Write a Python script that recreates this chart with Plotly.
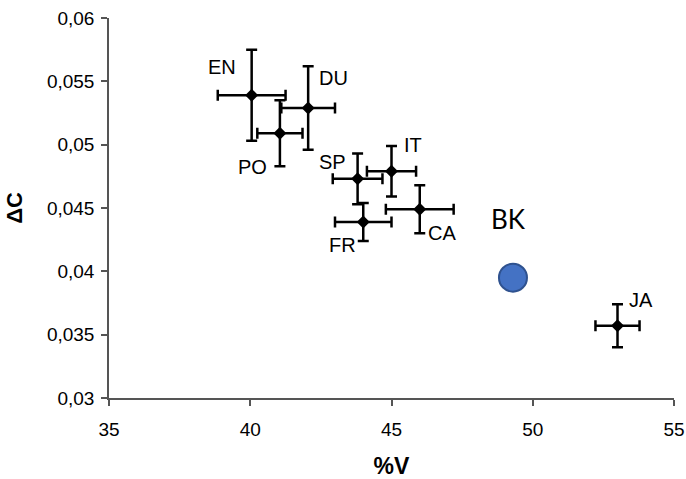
import plotly.graph_objects as go

# ---- data ----
labels = ["EN", "DU", "PO", "SP", "IT", "CA", "FR", "JA"]
pct_v = [40.05, 42.05, 41.05, 43.8, 45.0, 46.0, 44.0, 53.0]
delta_c = [0.0539, 0.0529, 0.0509, 0.0473, 0.0479, 0.0449, 0.0439, 0.0357]
pct_v_err = [1.2, 0.95, 0.8, 0.88, 0.87, 1.2, 1.0, 0.78]
delta_c_err = [0.0036, 0.0033, 0.0026, 0.0020, 0.0020, 0.0019, 0.0015, 0.0017]

bk_label = "BK"
bk_v = [49.3]
bk_c = [0.0395]

x_ticks = [35, 40, 45, 50, 55]
y_ticks = [0.03, 0.035, 0.04, 0.045, 0.05, 0.055, 0.06]

# label offsets (px) relative to each point
label_shift = {
    "EN": (-30, 28), "DU": (25, 30), "PO": (-27, -34), "SP": (-25, 17),
    "IT": (21, 26), "CA": (22, -24), "FR": (-21, -23), "JA": (23, 26),
}

FONT = "Liberation Sans, Arial, sans-serif"

fig = go.Figure()
fig.add_trace(go.Scatter(
    x=pct_v, y=delta_c, mode="markers",
    marker=dict(symbol="diamond", size=10, color="black"),
    error_x=dict(type="data", array=pct_v_err, color="black", thickness=2.5, width=5.5),
    error_y=dict(type="data", array=delta_c_err, color="black", thickness=2.5, width=5.5),
    showlegend=False, hoverinfo="skip",
))
fig.add_trace(go.Scatter(
    x=bk_v, y=bk_c, mode="markers",
    marker=dict(symbol="circle", size=28, color="#4472C4",
                line=dict(color="#2F528F", width=2)),
    showlegend=False,
))

for lab, xv, yv in zip(labels, pct_v, delta_c):
    dx, dy = label_shift[lab]
    fig.add_annotation(x=xv, y=yv, text=lab, showarrow=False,
                       xshift=dx, yshift=dy,
                       font=dict(family=FONT, size=20, color="black"))
fig.add_annotation(x=bk_v[0], y=bk_c[0], text=bk_label, showarrow=False,
                   xshift=-4, yshift=59,
                   font=dict(family="Lato, Open Sans, sans-serif", size=26, color="black"))

axis_common = dict(
    showline=True, linecolor="#555", linewidth=1.5,
    ticks="outside", ticklen=6, tickcolor="#555", tickwidth=1.5,
    showgrid=False, zeroline=False, mirror=False, automargin=False,
    ticklabeloverflow="allow",
    tickfont=dict(family=FONT, size=19, color="black"),
)

fig.update_xaxes(
    range=[35, 55], tickvals=x_ticks, ticklabelstandoff=7,
    title=dict(text="<b>%V</b>", font=dict(family=FONT, size=23, color="black"), standoff=27),
    **axis_common,
)
fig.update_yaxes(
    range=[0.03, 0.06], tickvals=y_ticks, ticklabelstandoff=3,
    title=dict(text="<b>ΔC</b>", font=dict(family=FONT, size=22, color="black"), standoff=18),
    **axis_common,
)

fig.update_layout(
    width=686, height=479,
    margin=dict(l=109, r=12, t=18, b=81),
    paper_bgcolor="white", plot_bgcolor="white",
    separators=",.",
)

fig.write_html(
    "out.html",
    config={"displayModeBar": False},
    post_script="document.body.style.margin='0';document.body.style.overflow='hidden';",
)
